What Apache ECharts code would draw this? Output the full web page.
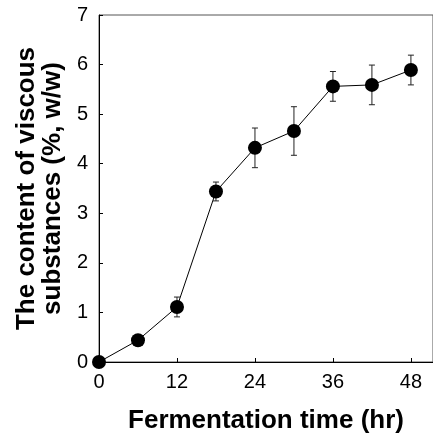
<!DOCTYPE html>
<html><head><meta charset="utf-8">
<script src="https://cdn.jsdelivr.net/npm/echarts@6/dist/echarts.min.js"></script>
<style>html,body{margin:0;padding:0;background:#fff}#c{width:433px;height:441px}</style>
</head><body><div id="c"></div>
<script>
const times = [0, 6, 12, 18, 24, 30, 36, 42, 48];
const values = [0, 0.44, 1.11, 3.44, 4.32, 4.66, 5.56, 5.59, 5.89];
const errors = [0, 0, 0.2, 0.19, 0.4, 0.49, 0.3, 0.4, 0.3];
const xTicks = [0, 12, 24, 36, 48];
const yTicks = [0, 1, 2, 3, 4, 5, 6, 7];

const font = '"Liberation Sans", Arial, sans-serif';
const chart = echarts.init(document.getElementById('c'), null, {renderer: 'canvas'});
chart.setOption({
  animation: false,
  grid: {left: 99, top: 15, right: 0, bottom: 79, show: true, borderColor: '#555', borderWidth: 1, backgroundColor: 'transparent'},
  xAxis: {
    type: 'value', min: 0, max: 51.4, interval: 12,
    name: 'Fermentation time (hr)', nameLocation: 'middle', nameGap: 46,
    nameTextStyle: {fontFamily: font, fontWeight: 'bold', fontSize: 26, color: '#000'},
    axisLine: {lineStyle: {color: '#000', width: 1}},
    axisTick: {inside: true, length: 4, lineStyle: {color: '#000'}},
    axisLabel: {fontFamily: font, fontSize: 20, color: '#000', margin: 10, showMaxLabel: false,
      formatter: v => xTicks.includes(v) ? String(v) : ''},
    splitLine: {show: false}
  },
  yAxis: {
    type: 'value', min: 0, max: 7, interval: 1,
    name: 'The content of viscous\nsubstances (%, w/w)', nameLocation: 'middle', nameGap: 30, nameRotate: 90,
    nameTextStyle: {fontFamily: font, fontWeight: 'bold', fontSize: 26, color: '#000', lineHeight: 26},
    axisLine: {lineStyle: {color: '#000', width: 1}},
    axisTick: {inside: true, length: 4, lineStyle: {color: '#000'}},
    axisLabel: {fontFamily: font, fontSize: 20, color: '#000', margin: 11,
      formatter: v => yTicks.includes(v) ? String(v) : ''},
    splitLine: {show: false}
  },
  series: [
    {
      type: 'custom',
      data: times.map((t, i) => [t, values[i] - errors[i], values[i] + errors[i]]),
      renderItem: function (params, api) {
        const lo = api.coord([api.value(0), api.value(1)]);
        const hi = api.coord([api.value(0), api.value(2)]);
        const w = 3;
        const st = {stroke: '#222', lineWidth: 1};
        return {type: 'group', children: [
          {type: 'line', shape: {x1: lo[0], y1: lo[1], x2: hi[0], y2: hi[1]}, style: st},
          {type: 'line', shape: {x1: lo[0] - w, y1: lo[1], x2: lo[0] + w, y2: lo[1]}, style: st},
          {type: 'line', shape: {x1: hi[0] - w, y1: hi[1], x2: hi[0] + w, y2: hi[1]}, style: st}
        ]};
      },
      z: 1
    },
    {
      type: 'line',
      data: times.map((t, i) => [t, values[i]]),
      symbol: 'circle', symbolSize: 14,
      itemStyle: {color: '#000'},
      lineStyle: {color: '#000', width: 1},
      z: 2
    }
  ]
});
</script></body></html>
